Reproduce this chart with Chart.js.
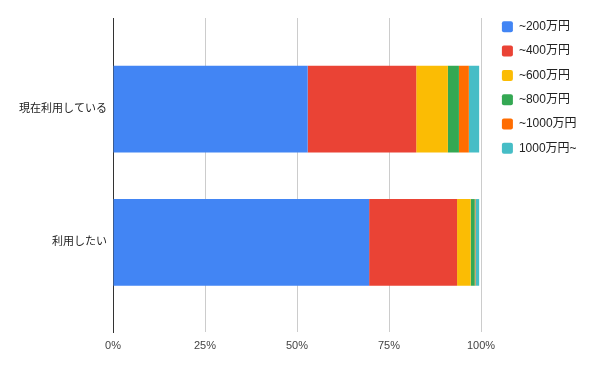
<!DOCTYPE html>
<html lang="ja">
<head>
  <meta charset="UTF-8" />
  <title>年収分布</title>
  <script src="https://cdn.jsdelivr.net/npm/chart.js"></script>
  <style>
    html, body { margin: 0; padding: 0; background: #fff; }
    #wrap { width: 600px; height: 371px; }
  </style>
</head>
<body>
  <div id="wrap"><canvas id="chart" width="600" height="371"></canvas></div>

  <script>
    // categories (top to bottom)
    const categories = ["現在利用している", "利用したい"];

    // series, one value per category (percent of respondents)
    const seriesNames = ["~200万円", "~400万円", "~600万円", "~800万円", "~1000万円", "1000万円~"];
    const upTo200  = [52.9, 69.6];
    const upTo400  = [29.5, 23.9];
    const upTo600  = [8.6, 3.7];
    const upTo800  = [3.0, 1.1];
    const upTo1000 = [2.7, 0.2];
    const over1000 = [2.8, 1.0];

    const xTicks = [0, 25, 50, 75, 100];

    const colors = ["#4285F4", "#EA4335", "#FBBC04", "#34A853", "#FF6D01", "#46BDC6"];
    const seriesValues = [upTo200, upTo400, upTo600, upTo800, upTo1000, over1000];

    const font = "'Liberation Sans', Arial, 'Noto Sans CJK JP', sans-serif";

    const datasets = seriesNames.map((name, i) => ({
      label: name,
      data: seriesValues[i].map((v, idx) => ({ x: v, y: idx })),
      backgroundColor: colors[i],
      borderWidth: 0,
      barPercentage: 0.65,
      categoryPercentage: 1
    }));

    // legend: fixed width, then nudged so it sits like the original
    const legendPlace = {
      id: "legendPlace",
      beforeInit(chart) {
        const fit = chart.legend.fit;
        chart.legend.fit = function () {
          fit.bind(chart.legend)();
          this.width = 119;
        };
      },
      afterLayout(chart) {
        chart.legend.left += 8.6;
        chart.legend.right += 8.6;
        chart.legend.top -= 9.5;
      }
    };

    new Chart(document.getElementById("chart"), {
      type: "bar",
      data: { datasets },
      options: {
        indexAxis: "y",
        responsive: false,
        animation: false,
        layout: { padding: { top: 18, bottom: 0, left: 0, right: 0 } },
        scales: {
          x: {
            stacked: true,
            min: 0,
            max: 100,
            afterBuildTicks: s => { s.ticks = xTicks.map(v => ({ value: v })); },
            afterFit: s => { s.height = 39; },
            border: { display: false },
            grid: {
              color: c => c.tick && c.tick.value === 0 ? "rgba(0,0,0,0)" : "#cccccc",
              drawTicks: false
            },
            ticks: {
              padding: 7,
              color: "#444444",
              font: { family: font, size: 11 },
              callback: v => v + "%"
            }
          },
          y: {
            type: "linear",
            stacked: true,
            reverse: true,
            offset: false,
            min: -0.683,
            max: 1.672,
            afterBuildTicks: s => { s.ticks = categories.map((c, i) => ({ value: i })); },
            afterFit: s => { s.width = 113; },
            border: { display: true, color: "#333333", width: 1 },
            grid: { display: false, drawTicks: false, offset: false },
            ticks: {
              padding: 6,
              color: "#222222",
              font: { family: font, size: 11 },
              callback: v => categories[v]
            }
          }
        },
        plugins: {
          legend: {
            position: "right",
            align: "start",
            labels: {
              boxWidth: 11,
              boxHeight: 11,
              padding: 12.3,
              useBorderRadius: true,
              borderRadius: 2,
              color: "#222222",
              font: { family: font, size: 12 }
            }
          },
          tooltip: { enabled: false }
        }
      },
      plugins: [legendPlace]
    });
  </script>
</body>
</html>
